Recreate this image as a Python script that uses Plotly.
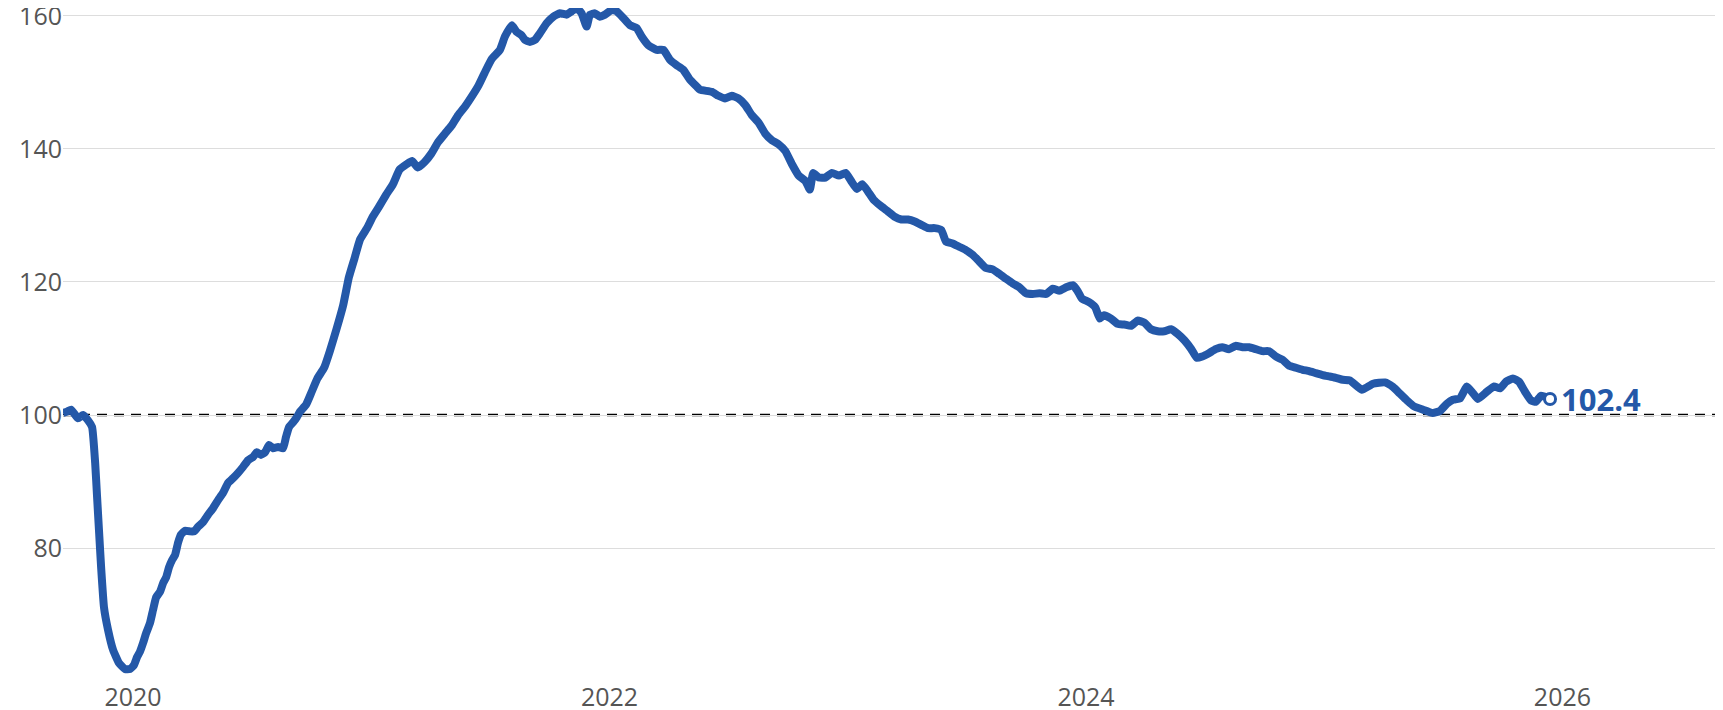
import plotly.graph_objects as go

# index, baseline = 100; x in decimal years
years = [
    2019.706, 2019.723, 2019.740, 2019.769, 2019.790, 2019.811, 2019.828, 2019.841,
    2019.849, 2019.857, 2019.866, 2019.878, 2019.895, 2019.916, 2019.941, 2019.966,
    2019.987, 2020.004, 2020.017, 2020.029, 2020.042, 2020.055, 2020.071, 2020.084,
    2020.097, 2020.113, 2020.126, 2020.139, 2020.151, 2020.164, 2020.176, 2020.189,
    2020.201, 2020.218, 2020.239, 2020.256, 2020.273, 2020.294, 2020.315, 2020.336,
    2020.357, 2020.378, 2020.399, 2020.420, 2020.441, 2020.462, 2020.483, 2020.504,
    2020.520, 2020.537, 2020.554, 2020.571, 2020.588, 2020.609, 2020.630, 2020.642,
    2020.655, 2020.672, 2020.688, 2020.701,
    2020.727, 2020.750, 2020.774, 2020.802, 2020.826, 2020.854, 2020.882, 2020.906,
    2020.930, 2020.953, 2020.982, 2021.006, 2021.034, 2021.062, 2021.091, 2021.119,
    2021.148, 2021.171, 2021.195, 2021.223, 2021.252, 2021.280, 2021.309, 2021.337,
    2021.365, 2021.394, 2021.422, 2021.451, 2021.479, 2021.507,
    2021.540, 2021.561, 2021.590, 2021.610, 2021.631, 2021.645, 2021.666, 2021.687,
    2021.708, 2021.736, 2021.764, 2021.792, 2021.820, 2021.841, 2021.862, 2021.883,
    2021.904, 2021.918, 2021.939, 2021.960, 2021.981, 2022.009, 2022.030, 2022.058,
    2022.086, 2022.114, 2022.135, 2022.163, 2022.198, 2022.226, 2022.254, 2022.282,
    2022.310, 2022.338, 2022.366, 2022.380,
    2022.429, 2022.457, 2022.485, 2022.513, 2022.541, 2022.570, 2022.597, 2022.625,
    2022.654, 2022.682, 2022.710, 2022.738, 2022.766, 2022.794, 2022.822, 2022.841,
    2022.855, 2022.878, 2022.906, 2022.934, 2022.963, 2022.991, 2023.014, 2023.038,
    2023.061, 2023.085, 2023.108, 2023.140, 2023.169, 2023.197, 2023.225, 2023.253,
    2023.281, 2023.309, 2023.337, 2023.365, 2023.393, 2023.412, 2023.440, 2023.468,
    2023.496, 2023.524, 2023.552, 2023.580, 2023.608, 2023.637, 2023.664, 2023.692,
    2023.720, 2023.749, 2023.777, 2023.805, 2023.833, 2023.861, 2023.889, 2023.917,
    2023.946, 2023.964, 2023.983, 2024.011, 2024.039, 2024.058, 2024.076, 2024.105,
    2024.133, 2024.161, 2024.189, 2024.217, 2024.245, 2024.273, 2024.301, 2024.329,
    2024.357, 2024.385, 2024.414, 2024.442, 2024.465, 2024.488, 2024.516, 2024.544,
    2024.572, 2024.600, 2024.628, 2024.657, 2024.685, 2024.713, 2024.741, 2024.769,
    2024.797, 2024.825, 2024.853, 2024.881, 2024.909, 2024.937, 2024.965, 2024.994,
    2025.021, 2025.049, 2025.078,
    2025.108, 2025.158, 2025.205, 2025.255, 2025.289, 2025.318, 2025.347, 2025.377,
    2025.415, 2025.456, 2025.486, 2025.515, 2025.540, 2025.570, 2025.599, 2025.624,
    2025.645, 2025.683, 2025.713, 2025.738, 2025.763, 2025.792, 2025.818, 2025.843,
    2025.868, 2025.889, 2025.910, 2025.931, 2025.948,
]

values = [
    100.3, 100.5, 100.8, 99.5, 100.0, 99.2, 98.2, 92.8,
    87.7, 82.7, 77.1, 71.1, 67.7, 64.7, 62.7, 61.8,
    61.8, 62.4, 63.6, 64.4, 65.7, 67.2, 68.7, 70.7,
    72.6, 73.4, 74.7, 75.6, 77.1, 78.2, 78.9, 80.8,
    82.0, 82.6, 82.5, 82.5, 83.2, 83.9, 85.0, 86.0,
    87.2, 88.3, 89.8, 90.5, 91.3, 92.2, 93.2, 93.7,
    94.4, 94.0, 94.4, 95.5, 95.0, 95.2, 95.0, 96.7,
    98.2, 98.9, 99.7, 100.5,
    101.6, 103.5, 105.5, 107.1, 109.6, 112.9, 116.5, 120.7,
    123.6, 126.4, 128.1, 129.8, 131.4, 133.1, 134.7, 136.9,
    137.7, 138.2, 137.2, 138.0, 139.3, 141.0, 142.3, 143.5,
    145.1, 146.4, 147.9, 149.6, 151.7, 153.6,
    154.9, 156.9, 158.6, 157.6, 157.1, 156.4, 156.1, 156.4,
    157.4, 158.9, 159.9, 160.4, 160.2, 160.7, 161.2, 160.4,
    158.4, 160.2, 160.4, 159.9, 160.2, 160.9, 160.7, 159.7,
    158.6, 158.2, 156.9, 155.6, 154.9, 154.9, 153.4, 152.6,
    151.9, 150.4, 149.4, 148.9,
    148.6, 148.0, 147.6, 148.0, 147.6, 146.6, 145.1, 144.0,
    142.3, 141.3, 140.7, 139.7, 137.7, 136.0, 135.2, 133.9,
    136.4, 135.7, 135.7, 136.4, 136.0, 136.4, 135.2, 134.0,
    134.7, 133.6, 132.4, 131.4, 130.6, 129.8, 129.4, 129.4,
    129.1, 128.6, 128.1, 128.1, 127.8, 126.1, 125.8, 125.3,
    124.8, 124.1, 123.1, 122.1, 121.9, 121.2, 120.5, 119.8,
    119.2, 118.3, 118.2, 118.3, 118.2, 119.0, 118.7, 119.2,
    119.5, 118.7, 117.5, 117.0, 116.2, 114.5, 115.0, 114.5,
    113.7, 113.6, 113.4, 114.2, 113.9, 112.9, 112.6, 112.6,
    112.9, 112.2, 111.2, 109.9, 108.6, 108.8, 109.3, 109.9,
    110.2, 109.9, 110.4, 110.2, 110.2, 109.9, 109.6, 109.6,
    108.8, 108.3, 107.4, 107.1, 106.8, 106.6, 106.3, 106.0,
    105.8, 105.6, 105.3,
    105.2, 103.8, 104.7, 104.9, 104.2, 103.2, 102.2, 101.3,
    100.8, 100.3, 100.6, 101.7, 102.3, 102.5, 104.3, 103.3,
    102.4, 103.5, 104.3, 104.0, 105.0, 105.5, 105.0, 103.5,
    102.2, 102.0, 102.9, 102.7, 102.4,
]

year_ticks = [2020, 2022, 2024, 2026]
y_ticks = [80, 100, 120, 140, 160]
baseline = 100

blue = "#2458a8"
grey_text = "#555555"

fig = go.Figure()

fig.add_trace(go.Scatter(
    x=years, y=values, mode="lines",
    line=dict(color=blue, width=8, shape="spline", smoothing=0.4),
    hoverinfo="skip", showlegend=False,
))

# last value marker
fig.add_trace(go.Scatter(
    x=[years[-1]], y=[values[-1]], mode="markers",
    marker=dict(size=11, color="white", line=dict(color=blue, width=3)),
    hoverinfo="skip", showlegend=False,
))

fig.add_annotation(
    x=years[-1], y=values[-1], text=f"<b>{values[-1]:.1f}</b>",
    showarrow=False, xanchor="left", yanchor="middle", xshift=9,
    font=dict(family="Open Sans", size=31, color=blue),
)

fig.add_shape(
    type="line", xref="paper", x0=0, x1=1, yref="y", y0=baseline, y1=baseline,
    line=dict(color="black", width=2.5, dash="10px,7px"), layer="between",
)

# page body keeps its default 8px margin, so the figure is 8px smaller
fig.update_layout(
    width=1715, height=702,
    margin=dict(l=55, r=0, t=0, b=24),
    paper_bgcolor="white", plot_bgcolor="white",
    font=dict(family="Open Sans", size=25, color=grey_text),
    xaxis=dict(
        range=[2019.706, 2026.674], tickvals=year_ticks,
        ticktext=[str(y) for y in year_ticks],
        showgrid=False, zeroline=False, showline=False, ticks="",
        ticklabeloverflow="allow", automargin=False, ticklabelstandoff=-6,
    ),
    yaxis=dict(
        range=[59.25, 161.2], tickvals=y_ticks,
        showgrid=True, gridcolor="#dddddd", gridwidth=1,
        zeroline=False, showline=False, ticks="", ticklabelstandoff=0,
        ticklabeloverflow="allow", automargin=False,
    ),
)

fig.write_html("out.html")
